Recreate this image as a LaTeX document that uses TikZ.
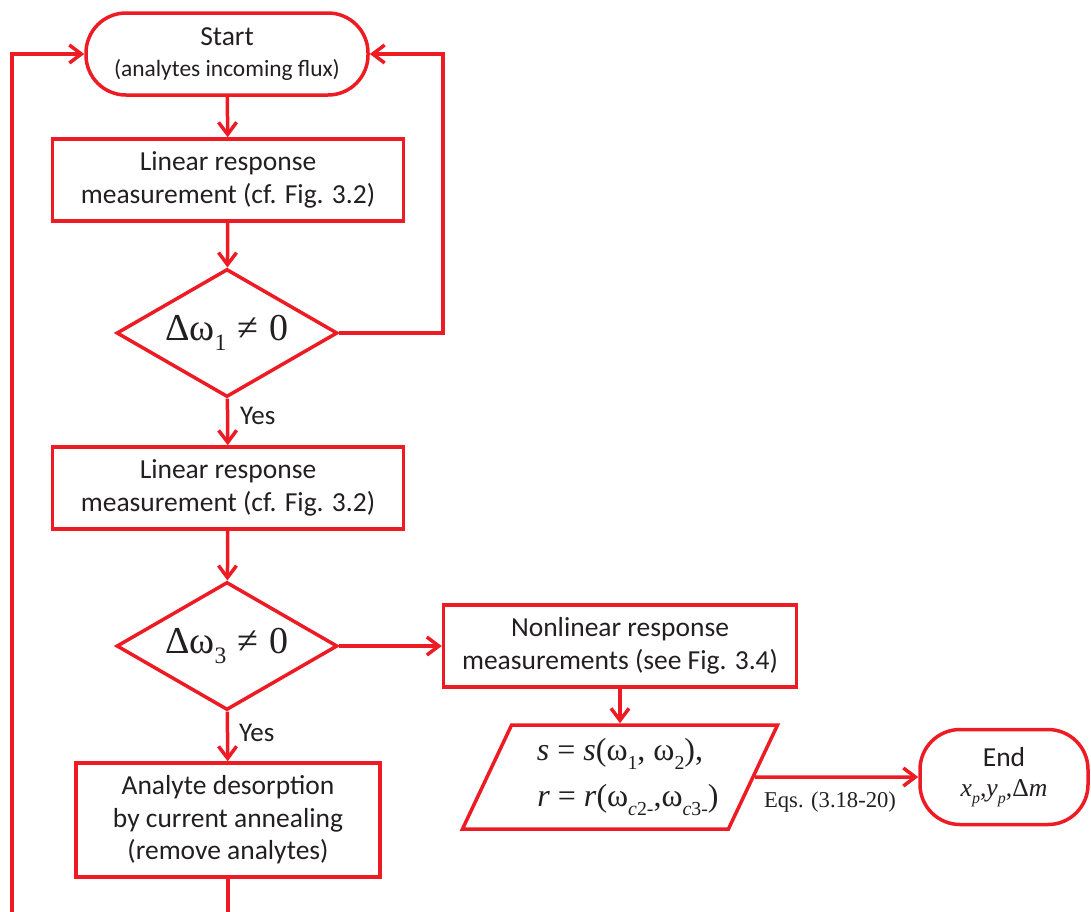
\documentclass[tikz,border=0pt]{standalone}
\usepackage{fontspec}
\setmainfont{Carlito}
\newfontfamily\tnr{Liberation Serif}
\usetikzlibrary{arrows.meta,shapes.geometric}
\definecolor{fred}{RGB}{237,28,36}
\definecolor{ftxt}{RGB}{35,31,32}
\newcommand\dsub[1]{\raisebox{-0.28em}{\scalebox{0.62}{#1}}}
\begin{document}
\begin{tikzpicture}[x=1pt,y=-1pt,
  every node/.style={text=ftxt},
  box/.style={draw=fred, line width=3.5pt, rectangle, align=center, font=\fontsize{27.5}{32.5}\selectfont, inner sep=0pt},
  term/.style={box, rounded corners=40pt},
  dia/.style={draw=fred, line width=3.5pt, diamond, shape aspect=1.73, inner sep=0pt, minimum width=221pt, minimum height=128pt, font=\tnr\fontsize{38}{38}\selectfont},
  para/.style={draw=fred, line width=3.5pt, trapezium, trapezium left angle=60, trapezium right angle=120, trapezium stretches=true, inner sep=0pt, align=center, font=\tnr\fontsize{32}{46}\selectfont},
  arr/.style={draw=fred, line width=3.5pt, -{Straight Barb[length=12pt,width=18pt]}},
  ln/.style={draw=fred, line width=3.5pt},
  lbl/.style={font=\fontsize{27}{27}\selectfont, anchor=west, inner sep=0pt}]
\useasboundingbox (0,0) rectangle (1091,911);

\node[term, minimum width=282pt, minimum height=82pt] (start) at (227,54)
  {Start\\[-2pt]{\fontsize{23.4}{28}\selectfont (analytes incoming flux)}};
\node[box, minimum width=351pt, minimum height=82pt] (box1) at (228,180)
  {Linear response\\measurement (cf. Fig. 3.2)};
\node[dia] (d1) at (227,333) {Δω\dsub{1}\hspace{0.3em}≠\hspace{0.3em}0};
\node[box, minimum width=351pt, minimum height=82pt] (box2) at (228,488)
  {Linear response\\measurement (cf. Fig. 3.2)};
\node[dia] (d2) at (227,646) {Δω\dsub{3}\hspace{0.3em}≠\hspace{0.3em}0};
\node[box, minimum width=353pt, minimum height=82pt] (box3) at (620,646)
  {Nonlinear response\\measurements (see Fig. 3.4)};
\node[para, minimum width=316pt, minimum height=104pt] (par) at (620,777)
  {\textit{s} = \textit{s}(ω\dsub{1}, ω\dsub{2}),\\
   \hspace{0.5em}\textit{r} = \textit{r}(ω\dsub{\textit{c}2-},ω\dsub{\textit{c}3-})};
\node[box, minimum width=304pt, minimum height=114pt] (box4) at (228,820)
  {Analyte desorption\\by current annealing\\(remove analytes)};
\node[term, minimum width=168pt, minimum height=95pt] (end) at (1004,777)
  {End\\[-2pt]{\tnr\fontsize{25.7}{28}\selectfont \textit{x}\dsub{\textit{p}},\textit{y}\dsub{\textit{p}},Δ\textit{m}}};

\node[lbl] (yes1) at (240,416) {Yes};
\node[lbl] (yes2) at (239,733) {Yes};
\node[font=\tnr\fontsize{22.6}{22.6}\selectfont, inner sep=0pt] (eqs) at (830,802) {Eqs. (3.18-20)};

\coordinate (rl) at (443,333);
\coordinate (bl) at (12,913);
\coordinate (bm) at (228,913);

\draw[arr] (start) -- (box1);
\draw[arr] (box1) -- (d1);
\draw[arr] (d1) -- (box2);
\draw[arr] (box2) -- (d2);
\draw[arr] (d2) -- (box3);
\draw[arr] (d2) -- (box4);
\draw[arr] (box3) -- (par);
\draw[arr] (par) -- (end);
\draw[arr] (d1.east) -- (rl) |- (start.east);
\draw[ln] (box4) -- (bm);
\draw[arr] (bl) |- (start.west);
\end{tikzpicture}
\end{document}
